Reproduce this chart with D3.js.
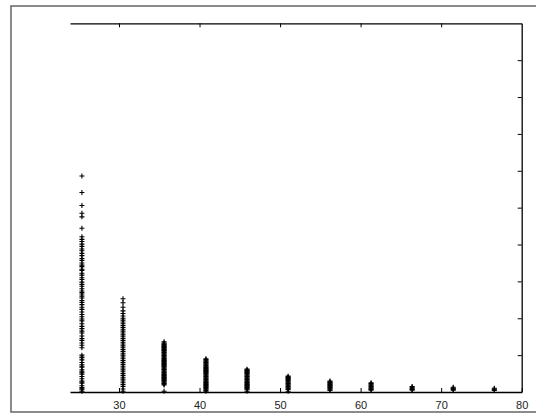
<!DOCTYPE html>
<html>
<head>
<meta charset="utf-8">
<script src="https://cdn.jsdelivr.net/npm/d3@7"></script>
<style>
  body { margin: 0; background: #fff; }
  svg { display: block; }
</style>
</head>
<body>
<svg id="drawing_region"></svg>
<script>
// column positions on the x axis
const xPositions = [25.4, 30.5, 35.6, 40.8, 45.9, 51.0, 56.2, 61.3, 66.4, 71.5, 76.6];

// y values, left to right
const col1 = [5.86, 5.41, 5.06, 4.85, 4.75, 4.44, 4.21, 4.14, 4.08, 4.01, 3.95, 3.88, 3.83, 3.76, 3.7,
  3.62, 3.57, 3.5, 3.44, 3.4, 3.33, 3.3, 3.22, 3.17, 3.1, 3.05, 2.98, 2.92, 2.87, 2.8, 2.74, 2.7, 2.66,
  2.6, 2.55, 2.48, 2.43, 2.37, 2.3, 2.24, 2.17, 2.1, 2.04, 1.98, 1.93, 1.85, 1.78, 1.72, 1.65, 1.6,
  1.52, 1.45, 1.4, 1.33, 1.27, 1.2, 1.0, 0.95, 0.93, 0.87, 0.8, 0.74, 0.7, 0.67, 0.6, 0.55, 0.52,
  0.48, 0.42, 0.36, 0.3, 0.27, 0.24, 0.17, 0.12, 0.09, 0.06, 0.02];
const col2 = [2.53, 2.42, 2.3, 2.2, 2.13, 2.06, 2.0, 1.95, 1.9, 1.85, 1.8, 1.75, 1.7, 1.65, 1.6, 1.55,
  1.5, 1.45, 1.4, 1.35, 1.3, 1.25, 1.2, 1.15, 1.1, 1.05, 1.0, 0.95, 0.9, 0.85, 0.8, 0.75, 0.7, 0.65,
  0.6, 0.55, 0.5, 0.45, 0.4, 0.35, 0.3, 0.25, 0.2, 0.15, 0.08, 0.02];
const col3 = [1.36, 1.33, 1.31, 1.29, 1.27, 1.25, 1.23, 1.21, 1.19, 1.17, 1.15, 1.13, 1.11, 1.09, 1.07,
  1.05, 1.03, 1.01, 0.99, 0.97, 0.95, 0.93, 0.91, 0.89, 0.87, 0.85, 0.83, 0.81, 0.79, 0.77, 0.75,
  0.73, 0.71, 0.69, 0.67, 0.65, 0.63, 0.61, 0.59, 0.57, 0.55, 0.53, 0.51, 0.49, 0.47, 0.45, 0.43,
  0.41, 0.39, 0.37, 0.35, 0.33, 0.31, 0.29, 0.27, 0.25, 0.23, 0.21, 0.19, 0.02];
const col4 = [0.9, 0.88, 0.86, 0.84, 0.82, 0.8, 0.78, 0.76, 0.74, 0.72, 0.7, 0.68, 0.66, 0.64, 0.62,
  0.6, 0.58, 0.56, 0.54, 0.52, 0.5, 0.48, 0.46, 0.44, 0.42, 0.4, 0.38, 0.36, 0.34, 0.32, 0.3, 0.28,
  0.26, 0.24, 0.22, 0.2, 0.18, 0.16, 0.14, 0.12, 0.1, 0.08, 0.06, 0.04, 0.02];
const col5 = [0.62, 0.6, 0.58, 0.56, 0.54, 0.52, 0.5, 0.48, 0.46, 0.44, 0.42, 0.4, 0.38, 0.36, 0.34,
  0.32, 0.3, 0.28, 0.26, 0.24, 0.22, 0.2, 0.18, 0.16, 0.14, 0.12, 0.1, 0.08, 0.06, 0.02];
const col6 = [0.43, 0.41, 0.39, 0.37, 0.35, 0.33, 0.31, 0.29, 0.27, 0.25, 0.23, 0.21, 0.19, 0.17,
  0.15, 0.13, 0.11, 0.09, 0.07, 0.02];
const col7 = [0.3, 0.28, 0.26, 0.24, 0.22, 0.2, 0.18, 0.16, 0.14, 0.12, 0.1, 0.08, 0.06, 0.04];
const col8 = [0.25, 0.23, 0.21, 0.19, 0.17, 0.15, 0.13, 0.11, 0.09, 0.07, 0.05];
const col9 = [0.15, 0.13, 0.11, 0.09, 0.07, 0.05];
const col10 = [0.13, 0.11, 0.09, 0.07, 0.05];
const col11 = [0.1, 0.08, 0.06, 0.04];

const xTicks = [30, 40, 50, 60, 70, 80];
const yTicks = [1, 2, 3, 4, 5, 6, 7, 8, 9];

const columns = [col1, col2, col3, col4, col5, col6, col7, col8, col9, col10, col11];
const data = [];
columns.forEach((col, i) => {
    col.forEach(v => data.push({ x: xPositions[i], y: v }));
});

const width = 536, height = 414;
const svg = d3.select('#drawing_region')
    .attr('width', width)
    .attr('height', height);

// scanned figure frame
svg.append('rect')
    .attr('x', 11).attr('y', 6)
    .attr('width', 540).attr('height', 406)
    .attr('fill', '#fff')
    .attr('stroke', '#6e6e6e')
    .attr('stroke-width', 1.6);

const plot = { left: 70, right: 521.7, top: 23.3, bottom: 392 };

const xscale = d3.scaleLinear().domain([23.92, 80]).range([plot.left, plot.right]);
const yscale = d3.scaleLinear().domain([0, 10]).range([plot.bottom, plot.top]);

const axisStyle = g => {
    g.select('.domain').attr('stroke', '#000').attr('stroke-width', 1.3);
    g.selectAll('.tick line').attr('stroke', '#000').attr('stroke-width', 1);
};

// bottom axis
svg.append('g')
    .attr('transform', `translate(0, ${plot.bottom})`)
    .call(d3.axisBottom(xscale).tickValues(xTicks).tickSize(-4).tickSizeOuter(0).tickPadding(9))
    .call(axisStyle)
    .call(g => g.selectAll('.tick text')
        .attr('font-family', 'Liberation Sans, Arial, sans-serif')
        .attr('font-size', 11)
        .attr('fill', '#222'));

// top axis
svg.append('g')
    .attr('transform', `translate(0, ${plot.top})`)
    .call(d3.axisTop(xscale).tickValues(xTicks.slice(0, 5)).tickSize(-4).tickSizeOuter(0).tickFormat(''))
    .call(axisStyle);

// right axis
svg.append('g')
    .attr('transform', `translate(${plot.right}, 0)`)
    .call(d3.axisRight(yscale).tickValues(yTicks).tickSize(-4).tickSizeOuter(0).tickFormat(''))
    .call(axisStyle);

// plus markers
const plus = 'M-2.5,0H2.5M0,-2.5V2.5';
svg.append('g')
    .selectAll('path')
    .data(data)
    .join('path')
    .attr('transform', d => `translate(${xscale(d.x)}, ${yscale(d.y)})`)
    .attr('d', plus)
    .attr('stroke', '#000')
    .attr('stroke-width', 1.1)
    .attr('fill', 'none');
</script>
</body>
</html>
